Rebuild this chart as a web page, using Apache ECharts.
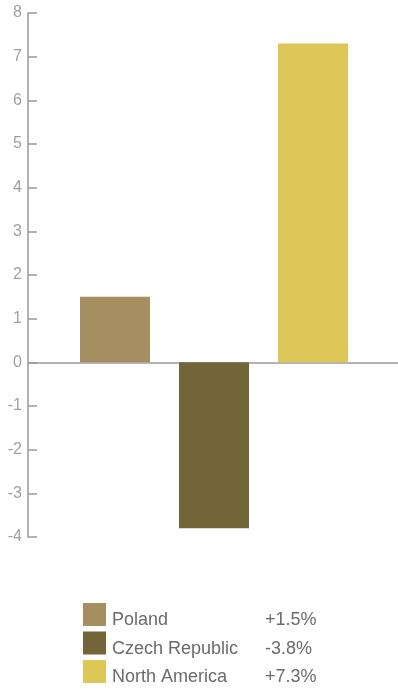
<!DOCTYPE html>
<html>
<head>
<meta charset="utf-8">
<script src="https://cdn.jsdelivr.net/npm/echarts@6/dist/echarts.min.js"></script>
<style>
  html, body { margin: 0; padding: 0; background: #ffffff; }
  #chart { width: 398px; height: 689px; }
</style>
</head>
<body>
<div id="chart"></div>
<script>
// Growth by region, percent
const regions = ['Poland', 'Czech Republic', 'North America'];
const growth = [1.5, -3.8, 7.3];
const growthLabels = ['+1.5%', '-3.8%', '+7.3%'];
const regionColors = ['#a58f60', '#726537', '#dec757'];
const yTicks = { min: -4, max: 8, interval: 1 };

const chart = echarts.init(document.getElementById('chart'));

// one series per region so each gets its own legend entry
const series = regions.map((name, i) => ({
  name: name,
  type: 'bar',
  stack: 'regions',
  xAxisIndex: 0,
  yAxisIndex: 0,
  barWidth: 70,
  itemStyle: { color: regionColors[i] },
  data: regions.map((_, j) => (j === i ? growth[i] : '-'))
}));

// a full-width baseline at zero
series.push({
  type: 'line',
  xAxisIndex: 1,
  yAxisIndex: 1,
  data: [],
  silent: true
});

const labelFont = 'Liberation Sans';

chart.setOption({
  animation: false,
  grid: [
    { left: 65.5, right: 35.5, top: 13, bottom: 152 },
    { left: 28, right: 0, top: 13, bottom: 152 }
  ],
  xAxis: [
    {
      type: 'category',
      gridIndex: 0,
      data: regions,
      axisLine: { show: false },
      axisTick: { show: false },
      axisLabel: { show: false }
    },
    {
      type: 'category',
      gridIndex: 1,
      data: ['a'],
      axisLine: { show: true, onZero: true, lineStyle: { color: '#9a9a9a', width: 1.5 } },
      axisTick: { show: false },
      axisLabel: { show: false }
    }
  ],
  yAxis: [
    {
      type: 'value',
      gridIndex: 0,
      min: yTicks.min,
      max: yTicks.max,
      interval: yTicks.interval,
      offset: 37.5,
      axisLine: { show: true, onZero: false, lineStyle: { color: '#9a9a9a', width: 1.5 } },
      axisTick: { show: true, inside: true, length: 9, lineStyle: { color: '#9a9a9a', width: 1.5 } },
      axisLabel: { color: '#a0a0a0', fontSize: 16, fontFamily: labelFont, margin: 6, padding: [4, 0, 0, 0] },
      splitLine: { show: false }
    },
    {
      type: 'value',
      gridIndex: 1,
      min: yTicks.min,
      max: yTicks.max,
      interval: yTicks.interval,
      axisLine: { show: false },
      axisTick: { show: false },
      axisLabel: { show: false },
      splitLine: { show: false }
    }
  ],
  legend: {
    data: regions,
    orient: 'vertical',
    left: 83,
    top: 603,
    height: 300,
    padding: 0,
    itemWidth: 23,
    itemHeight: 23,
    itemGap: 2,
    itemStyle: { borderWidth: 0 },
    icon: 'rect',
    selectedMode: false,
    formatter: name => `{n|${name}}{v|${growthLabels[regions.indexOf(name)]}}`,
    textStyle: {
      rich: {
        n: { width: 153, fontSize: 18, fontFamily: labelFont, color: '#6b6b6b', padding: [12, 0, 0, 1] },
        v: { fontSize: 18, fontFamily: labelFont, color: '#6b6b6b', padding: [12, 0, 0, 0] }
      }
    }
  },
  series: series
});
</script>
</body>
</html>
